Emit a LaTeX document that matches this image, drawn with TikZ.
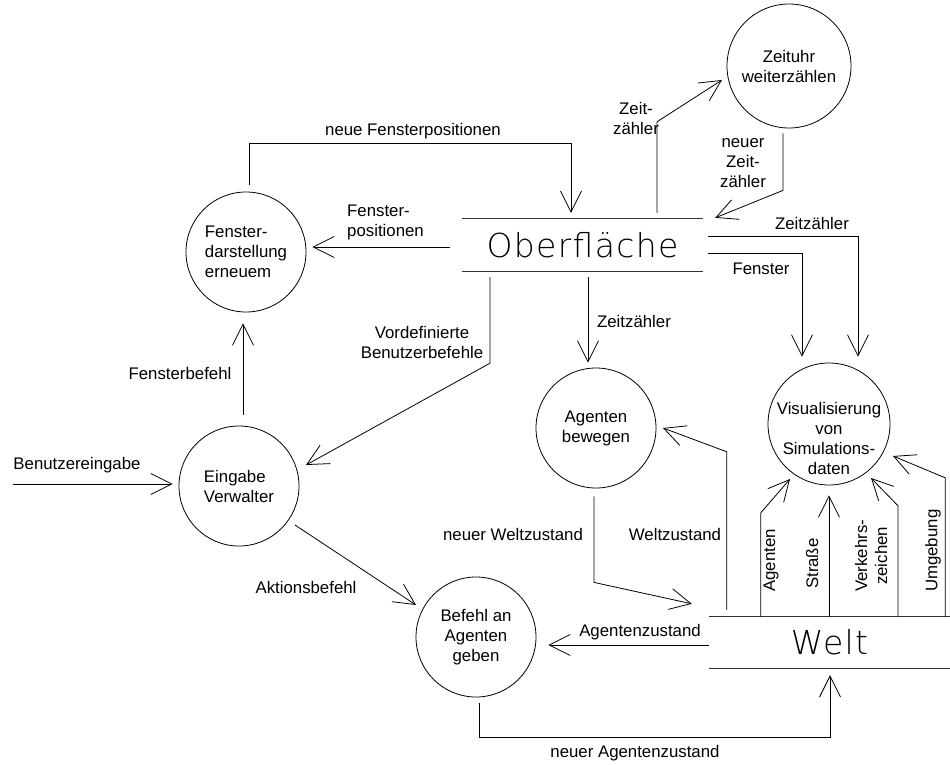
\documentclass[tikz,border=0pt]{standalone}
\usepackage{fontspec}
\setmainfont{Liberation Sans}
\newfontfamily\thinfont{DejaVuSans-ExtraLight}[Extension=.ttf,LetterSpace=4]
\usetikzlibrary{arrows.meta,calc}
\newcommand\lblfont{\fontsize{16.8}{20}\selectfont}
\newcommand\storefont{\thinfont\fontsize{33}{36}\selectfont}
\begin{document}
\begin{tikzpicture}[x=1pt,y=-1pt,
  proc/.style={circle,draw,line width=0.8pt,minimum size=120pt,inner sep=0pt,font=\lblfont,align=center},
  store/.style={minimum width=241pt,minimum height=52pt,inner sep=0pt,font=\storefont},
  storeline/.style={line width=0.8pt,draw=black!80},
  flow/.style={line width=0.8pt,-{Straight Barb[length=21pt,width=21pt]}},
  lbl/.style={font=\lblfont,inner sep=0pt,align=center},
  vlbl/.style={font=\lblfont,inner sep=0pt,align=center,rotate=90,anchor=west}]
\useasboundingbox[fill=white] (0,0) rectangle (950,764);

% processes
\node[proc,minimum size=124pt] (zeit) at (789,66) {Zeituhr\\weiterzählen};
\node[proc,align=left] (fen) at (246,252) {Fenster-\\darstellung\\erneuem};
\node[proc,align=left] (ein) at (239,486) {Eingabe\\Verwalter};
\node[proc] (agb) at (596,428) {Agenten\\bewegen};
\node[proc,minimum size=122pt] (vis) at (829,424) {};
\node[lbl] (vist) at (829,438) {Visualisierung\\von\\Simulations-\\daten};
\node[proc] (bef) at (476,637) {Befehl an\\Agenten\\geben};

% stores
\node[store] (obf) at (582.5,245) {Oberfläche};
\draw[storeline] (obf.north west) -- (obf.north east);
\draw[storeline] (obf.south west) -- (obf.south east);
\node[store,minimum height=51pt] (welt) at (829.5,642.5) {Welt};
\draw[storeline] (welt.north west) -- (welt.north east);
\draw[storeline] (welt.south west) -- (welt.south east);

% connectors
\draw[flow] ([shift={(3,-7)}]fen.north) |- ([shift={(-11.5,-75)}]obf.north) -- ([shift={(-11.5,-6)}]obf.north);
\draw[flow] ([shift={(-12,2)}]obf.west) -- ([shift={(6,-5)}]fen.east);
\draw[flow] ([shift={(74.5,-6)}]obf.north) -- ++(0,-91) -- ([shift={(-67,14)}]zeit.center);
\draw[flow] ([shift={(-6,5)}]zeit.south) -- ++(0,57) -- ([shift={(12,-1)}]obf.north east);
\draw[flow] ([shift={(5,-9)}]obf.east) -| ([shift={(29,-6)}]vis.north);
\draw[flow] ([shift={(5,8)}]obf.east) -| ([shift={(-27,-6)}]vis.north);
\draw[flow] ([shift={(5.5,6)}]obf.south) -- ([shift={(-8,-5)}]agb.north);
\draw[flow] ([shift={(-92.5,6)}]obf.south) -- ++(0,86) -- ([shift={(67,-21)}]ein.center);
\draw[flow] ([shift={(4,-11)}]ein.north) -- ([shift={(-3,11)}]fen.south);
\coordinate (inp) at (13,484);
\draw[flow] (inp) -- ([shift={(-6,-2)}]ein.west);
\draw[flow] ([shift={(56,39)}]ein.center) -- ([shift={(-60,-32)}]bef.center);
\draw[flow] ([shift={(-2,8)}]agb.south) -- ++(0,86) -- ([shift={(-17,-13)}]welt.north west);
\draw[flow] ([shift={(18,-7)}]welt.north west) -- ++(0,-158) -- ([shift={(67,0)}]agb.center);
\draw[flow] ([shift={(52,0)}]welt.north west) -- ++(0,-104) -- ([shift={(-39,55)}]vis.center);
\draw[flow] ([shift={(-0.5,0)}]welt.north) -- ([shift={(0,10)}]vis.south);
\draw[flow] ([shift={(68.5,0)}]welt.north) -- ++(0,-111) -- ([shift={(42,54)}]vis.center);
\draw[flow] ([shift={(-5,0)}]welt.north east) -- ++(0,-139) -- ([shift={(64,32)}]vis.center);
\draw[flow] ([shift={(0,2.5)}]welt.west) -- ([shift={(12,8)}]bef.east);
\draw[flow] ([shift={(3,6)}]bef.south) |- ([shift={(0.5,69)}]welt.south) -- ([shift={(0.5,7)}]welt.south);

% labels
\node[lbl] (l1) at (413,131) {neue Fensterpositionen};
\node[lbl,align=left,anchor=west] (l2) at (347,222) {Fenster-\\positionen};
\node[lbl] (l3) at (636,118) {Zeit-\\zähler};
\node[lbl] (l4) at (743,163) {neuer\\Zeit-\\zähler};
\node[lbl] (l5) at (812,223) {Zeitzähler};
\node[lbl] (l6) at (761,269) {Fenster};
\node[lbl] (l7) at (634,321) {Zeitzähler};
\node[lbl] (l8) at (422,342) {Vordefinierte\\Benutzerbefehle};
\node[lbl] (l9) at (180,373) {Fensterbefehl};
\node[lbl] (l10) at (77,465) {Benutzereingabe};
\node[lbl] (l11) at (306,587) {Aktionsbefehl};
\node[lbl] (l12) at (513,534) {neuer Weltzustand};
\node[lbl] (l13) at (675,534) {Weltzustand};
\node[lbl] (l14) at (640,632) {Agentenzustand};
\node[lbl] (l15) at (635,753) {neuer Agentenzustand};
\node[vlbl] (l16) at (771,592) {Agenten};
\node[vlbl] (l17) at (812,589) {Straße};
\node[vlbl] (l18) at (871,592) {Verkehrs-\\zeichen};
\node[vlbl] (l19) at (933,592) {Umgebung};
\end{tikzpicture}
\end{document}
